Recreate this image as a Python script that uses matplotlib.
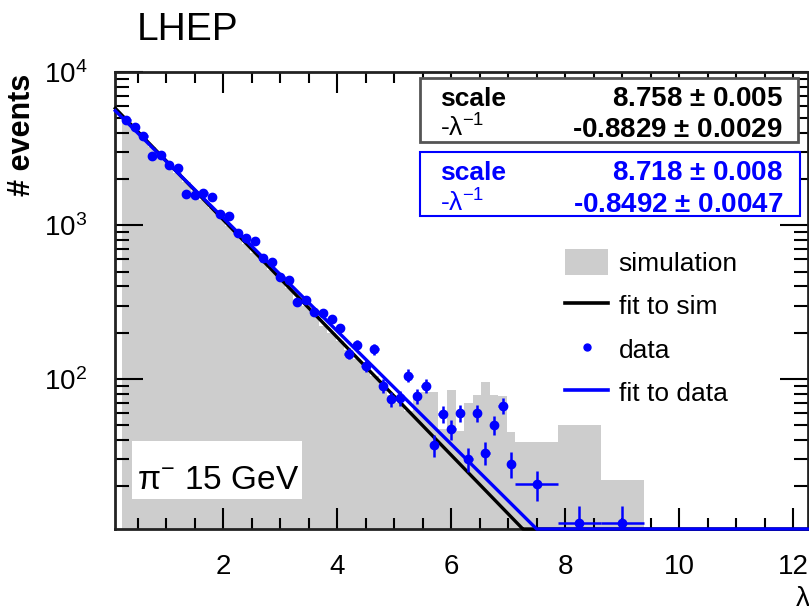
import numpy as np
import matplotlib
matplotlib.use("Agg")
import matplotlib.pyplot as plt
from matplotlib.patches import Patch, Rectangle
from matplotlib.lines import Line2D
from matplotlib.ticker import FixedLocator, FixedFormatter, MultipleLocator, NullFormatter

plt.rcParams['font.family'] = ['Liberation Sans', 'DejaVu Sans']
plt.rcParams['mathtext.default'] = 'regular'

# ---------------- data ----------------
bin_width_fine = 0.15
first_edge = 0.225
wide_edges_upper = [7.875, 8.625, 9.375]   # upper edges of the wide tail bins (after 7.125)

data_fine = [4900, 4375, 3810, 2830, 2857, 2466, 2350, 1601, 1578, 1626,
             1527, 1183, 1152, 891, 828, 792, 610, 580, 464, 442,
             317, 328, 273, 269, 246, 213, 146, 166, 122, 156,
             90, 74, 75, 105, 77, 90, 37, 59, 47, 60,
             30, 60, 33, 50, 67, 28]
data_wide = [20.5, 11.5, 11.5]

sim_fine = [4850, 4250, 3720, 3260, 2850, 2500, 2190, 1920, 1680, 1470,
            1290, 1130, 990, 865, 760, 665, 580, 510, 445, 390,
            305, 300, 262, 220, 200, 176, 154, 135, 118, 104,
            91, 79, 70, 62, 78, 82, 82, 47, 85, 46,
            70, 79, 96, 79, 77, 45]
sim_wide = [39, 50, 22]

fit_sim = {"scale": 8.758, "scale_err": 0.005, "slope": -0.8829, "slope_err": 0.0029}
fit_data = {"scale": 8.718, "scale_err": 0.008, "slope": -0.8492, "slope_err": 0.0047}

x_ticks = [2, 4, 6, 8, 10, 12]
y_ticks = [1e2, 1e3, 1e4]
y_tick_labels = [r'$10^{2}$', r'$10^{3}$', r'$10^{4}$']
XMIN, XMAX = 0.1, 12.26
YMIN, YMAX = 10.5, 1e4

BLUE = '#0000ff'
GRAY = '#cdcdcd'

# ---------------- figure ----------------
W, H = 809, 613
fig = plt.figure(figsize=(W / 100, H / 100), dpi=100)

def fx(px):
    return px / W

def fy(py):
    return 1 - py / H

ax = fig.add_axes([fx(115), fy(529), fx(808) - fx(115), fy(72) - fy(529)])
ax.set_yscale('log')
ax.set_xlim(XMIN, XMAX)
ax.set_ylim(YMIN, YMAX)

n_fine = len(sim_fine)
fine_edges = first_edge + bin_width_fine * np.arange(n_fine + 1)
edges = np.concatenate([fine_edges, wide_edges_upper])
sim = np.array(sim_fine + sim_wide, dtype=float)
data = np.array(data_fine + data_wide, dtype=float)
centers = 0.5 * (edges[:-1] + edges[1:])
halfw = 0.5 * np.diff(edges)

ax.stairs(sim, edges, fill=True, color=GRAY, baseline=1, lw=0, zorder=1)

x_fit = np.linspace(0.105, XMAX, 800)
y_sim = np.maximum(np.exp(fit_sim["scale"] + fit_sim["slope"] * x_fit), YMIN)
y_dat = np.maximum(np.exp(fit_data["scale"] + fit_data["slope"] * x_fit), YMIN)
ax.plot(x_fit, y_sim, color='black', lw=2.4, zorder=3, clip_on=False)
ax.plot(x_fit, y_dat, color=BLUE, lw=2.4, zorder=3.5, clip_on=False)

ax.errorbar(centers, data, yerr=np.sqrt(data), xerr=halfw, fmt='o', color=BLUE,
            ms=6, elinewidth=1.8, capsize=0, zorder=4)

# ticks
ax.xaxis.set_major_locator(FixedLocator(x_ticks))
ax.xaxis.set_minor_locator(MultipleLocator(0.5))
ax.yaxis.set_major_locator(FixedLocator(y_ticks))
ax.yaxis.set_major_formatter(FixedFormatter(y_tick_labels))
minor_y = [m * 10 ** e for e in range(1, 4) for m in range(2, 10)]
ax.yaxis.set_minor_locator(FixedLocator(minor_y))
ax.yaxis.set_minor_formatter(NullFormatter())
ax.tick_params(which='both', direction='in', top=True, right=True, colors='black', width=1.5)
ax.tick_params(axis='x', which='major', length=15, labelsize=20, pad=18)
ax.tick_params(axis='x', which='minor', length=8)
ax.tick_params(axis='y', which='major', length=20, labelsize=20, pad=20)
ax.tick_params(axis='y', which='minor', length=10)
for s in ax.spines.values():
    s.set_linewidth(2)
    s.set_color('#222222')

# texts
fig.text(fx(137), fy(40), 'LHEP', fontsize=28, ha='left', va='baseline')
fig.text(fx(37), fy(135), '# events', fontsize=22, fontweight='bold', rotation=90,
         ha='right', va='center')
fig.text(fx(795), fy(606), r'$\lambda$', fontsize=20, ha='left', va='baseline')

# stat boxes
box1 = Rectangle((fx(420), fy(142)), fx(798) - fx(420), fy(78) - fy(142), transform=fig.transFigure,
                 facecolor='white', edgecolor='#555555', lw=2, zorder=5)
box2 = Rectangle((fx(420), fy(216)), fx(800) - fx(420), fy(152) - fy(216), transform=fig.transFigure,
                 facecolor='white', edgecolor=BLUE, lw=1.5, zorder=5)
fig.add_artist(box1)
fig.add_artist(box2)

def stat_rows(fit, color, base1, base2):
    fig.text(fx(440), fy(base1), 'scale', fontsize=19, fontweight='bold', color=color,
             ha='left', va='baseline', zorder=6)
    fig.text(fx(783), fy(base1), f"{fit['scale']:.3f} $\\pm$ {fit['scale_err']:.3f}", fontsize=20,
             fontweight='bold', color=color, ha='right', va='baseline', zorder=6)
    fig.text(fx(440), fy(base2), r'-$\lambda^{-1}$', fontsize=19, color=color,
             ha='left', va='baseline', zorder=6)
    fig.text(fx(783), fy(base2), f"{fit['slope']:.4f} $\\pm$ {fit['slope_err']:.4f}", fontsize=20,
             fontweight='bold', color=color, ha='right', va='baseline', zorder=6)

stat_rows(fit_sim, 'black', 106, 137)
stat_rows(fit_data, BLUE, 180, 212)

# legend
handles = [Patch(facecolor=GRAY, edgecolor='none'),
           Line2D([], [], color='black', lw=2.6),
           Line2D([], [], color=BLUE, marker='o', ls='none', ms=5),
           Line2D([], [], color=BLUE, lw=2.6)]
labels = ['simulation', 'fit to sim', 'data', 'fit to data']
fig.legend(handles, labels, loc='upper left', bbox_to_anchor=(fx(565), fy(249)),
           bbox_transform=fig.transFigure, frameon=False, fontsize=19,
           handlelength=1.63, handleheight=1.15, handletextpad=0.4,
           labelspacing=0.62, borderpad=0, borderaxespad=0)

# label box
lab = Rectangle((fx(132), fy(499)), fx(302) - fx(132), fy(441) - fy(499), transform=fig.transFigure,
                facecolor='white', edgecolor='none', zorder=5)
fig.add_artist(lab)
fig.text(fx(137), fy(489), r'$\pi^{-}$ 15 GeV', fontsize=24, ha='left', va='baseline', zorder=6)

fig.savefig('out.png', dpi=100)
